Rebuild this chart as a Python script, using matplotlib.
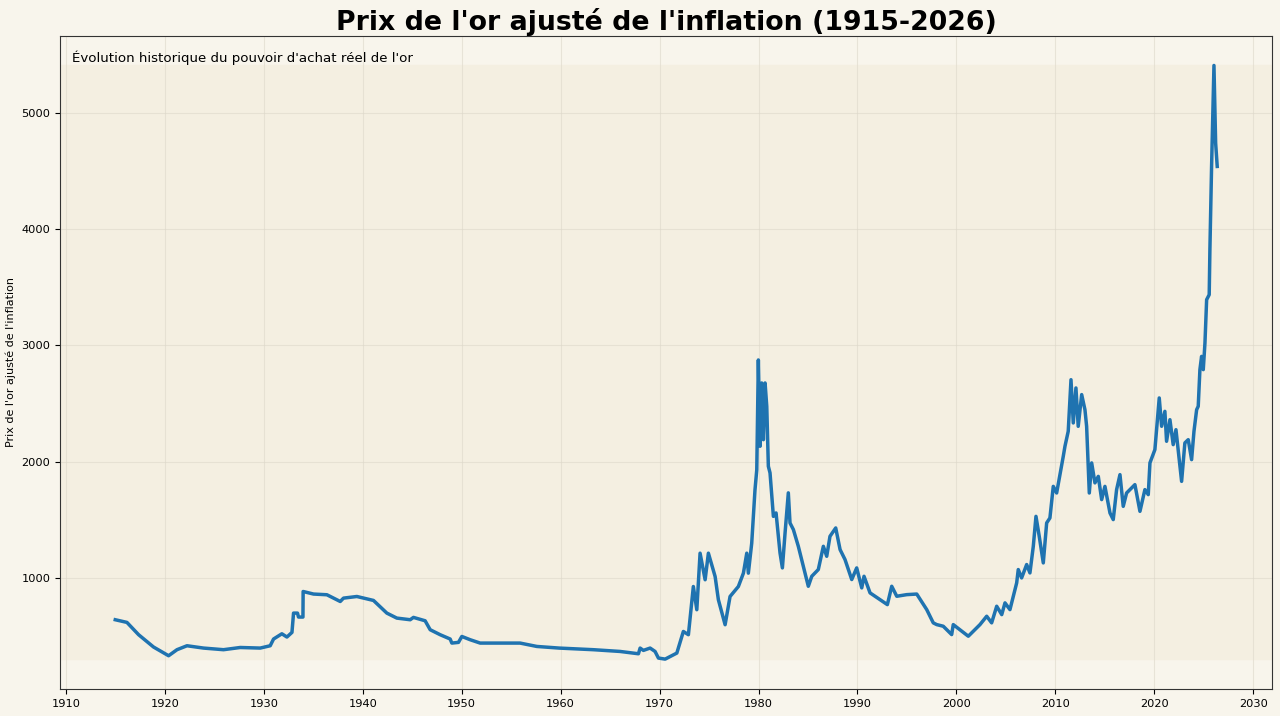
import matplotlib.pyplot as plt
from matplotlib.ticker import MultipleLocator

# values (year, inflation-adjusted gold price)
years = [
    1914.98, 1916.16, 1917.34, 1918.85, 1920.37, 1921.22, 1922.23, 1923.90, 1925.92, 1927.61,
    1929.63, 1930.64, 1930.98, 1931.82, 1932.33, 1932.84, 1933.00, 1933.40, 1933.50, 1933.95,
    1933.97, 1935.02, 1936.37, 1937.72, 1938.05, 1939.40, 1941.08, 1942.43, 1943.44, 1944.79,
    1945.12, 1946.30, 1946.81, 1947.82, 1948.83, 1949.00, 1949.67, 1950.01, 1950.85, 1951.86,
    1953.21, 1955.90, 1957.59, 1959.84, 1963.31, 1966.00, 1967.86, 1968.03, 1968.36, 1969.04,
    1969.54, 1969.88, 1970.56, 1971.74, 1972.40, 1972.91, 1973.41, 1973.76, 1974.09, 1974.60,
    1974.93, 1975.61, 1975.94, 1976.62, 1977.12, 1977.96, 1978.47, 1978.81, 1978.97, 1979.31,
    1979.64, 1979.82, 1979.98, 1980.15, 1980.32, 1980.49, 1980.66, 1980.83, 1980.99, 1981.16,
    1981.50, 1981.77, 1982.17, 1982.41, 1982.68, 1983.01, 1983.18, 1983.52, 1984.02, 1984.53,
    1985.03, 1985.38, 1986.04, 1986.55, 1986.89, 1987.22, 1987.80, 1988.24, 1988.74, 1989.42,
    1989.92, 1990.43, 1990.66, 1991.27, 1992.28, 1993.02, 1993.46, 1993.97, 1994.98, 1995.99,
    1997.00, 1997.66, 1998.01, 1998.67, 1999.52, 1999.68, 2001.20, 2002.38, 2003.06, 2003.56,
    2004.07, 2004.58, 2004.91, 2005.41, 2006.09, 2006.25, 2006.59, 2007.10, 2007.43, 2007.77,
    2008.04, 2008.37, 2008.78, 2009.12, 2009.45, 2009.79, 2010.13, 2010.47, 2010.80, 2010.97,
    2011.30, 2011.58, 2011.81, 2012.08, 2012.31, 2012.66, 2012.99, 2013.16, 2013.43, 2013.67,
    2014.00, 2014.34, 2014.68, 2015.01, 2015.52, 2015.85, 2016.19, 2016.53, 2016.86, 2017.20,
    2018.04, 2018.55, 2019.05, 2019.39, 2019.56, 2020.06, 2020.50, 2020.74, 2021.07, 2021.24,
    2021.58, 2021.91, 2022.19, 2022.76, 2023.09, 2023.43, 2023.77, 2024.01, 2024.28, 2024.44,
    2024.61, 2024.78, 2024.95, 2025.12, 2025.29, 2025.55, 2025.62, 2025.79, 2026.03, 2026.20,
    2026.36,
]
prices = [
    639, 616, 510, 404, 329, 381, 415, 395, 381, 400,
    395, 415, 473, 518, 490, 530, 696, 696, 662, 662,
    882, 860, 854, 796, 825, 839, 805, 696, 653, 639,
    659, 630, 553, 510, 473, 438, 444, 495, 467, 438,
    438, 438, 409, 395, 381, 366, 346, 395, 375, 395,
    366, 309, 300, 352, 538, 510, 925, 725, 1212, 983,
    1212, 1011, 811, 596, 839, 925, 1040, 1212, 1040, 1298,
    1757, 1929, 2875, 2132, 2677, 2189, 2677, 2476, 1960, 1903,
    1529, 1558, 1214, 1085, 1386, 1731, 1472, 1415, 1271, 1099,
    927, 1013, 1071, 1271, 1185, 1357, 1429, 1243, 1157, 985,
    1085, 913, 1013, 870, 812, 769, 927, 841, 855, 860,
    726, 612, 597, 583, 511, 597, 497, 597, 669, 612,
    755, 683, 784, 726, 956, 1071, 999, 1114, 1042, 1271,
    1529, 1357, 1128, 1472, 1515, 1787, 1730, 1888, 2046, 2132,
    2261, 2705, 2333, 2634, 2304, 2577, 2447, 2304, 1730, 1989,
    1817, 1873, 1673, 1787, 1558, 1501, 1759, 1888, 1615, 1730,
    1802, 1572, 1759, 1716, 1989, 2103, 2548, 2304, 2433, 2175,
    2361, 2146, 2275, 1830, 2161, 2189, 2017, 2261, 2447, 2476,
    2792, 2906, 2792, 3021, 3394, 3437, 3824, 4541, 5410, 4742,
    4541,
]

bg = "#f8f5ec"
fig, ax = plt.subplots(figsize=(12.8, 7.16), dpi=100)
fig.patch.set_facecolor(bg)
ax.set_facecolor(bg)
fig.subplots_adjust(left=0.047, right=0.994, bottom=0.038, top=0.95)

ax.axhspan(min(prices), max(prices), color="#f4efe1", zorder=0)
ax.plot(years, prices, color="#1f73b0", linewidth=2.5, zorder=3)

ax.xaxis.set_major_locator(MultipleLocator(10))
ax.grid(True, color="#ddd8ca", linewidth=0.8, alpha=0.6, zorder=1)
ax.set_axisbelow(True)
ax.tick_params(labelsize=8.2)
for s in ax.spines.values():
    s.set_color("#333333")

ax.set_ylabel("Prix de l'or ajusté de l'inflation", fontsize=8)
ax.set_title("Prix de l'or ajusté de l'inflation (1915-2026)", fontsize=19.3,
             fontweight="bold", pad=4)
ax.text(0.01, 0.977, "Évolution historique du pouvoir d'achat réel de l'or",
        transform=ax.transAxes, fontsize=9.6, ha="left", va="top")

fig.savefig("out.png", dpi=100, facecolor=bg)
